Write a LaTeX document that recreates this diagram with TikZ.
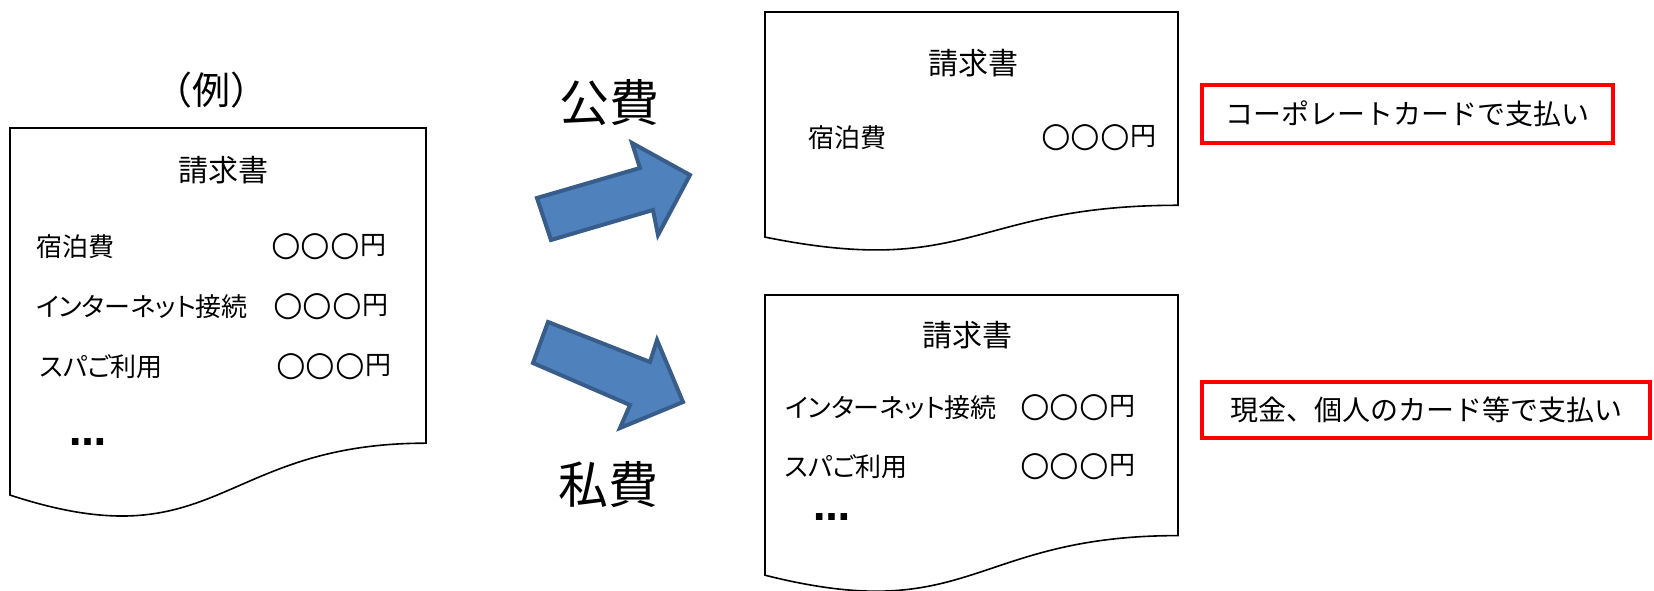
\documentclass[tikz,border=0pt]{standalone}
\usepackage{fontspec}
\setmainfont{Noto Sans CJK JP}
\newfontfamily\rowfont{Noto Sans CJK JP}[RawFeature=+palt]
\newfontfamily\circfont{DejaVu Sans}
\newfontfamily\dotfont{DejaVu Sans}[BoldFont={DejaVu Sans Bold}]
\begin{document}
\begin{tikzpicture}[x=1pt,y=-1pt,
  docline/.style={draw=black,line width=1.6pt,fill=white},
  blockarrow/.style={fill=arrowfill,draw=arrowdraw,line width=4pt,line join=miter},
  rowtext/.style={anchor=west,inner sep=0pt,font=\rowfont\fontsize{26}{30}\selectfont},
  amount/.style={anchor=west,inner sep=0pt,font=\fontsize{26}{30}\selectfont},
  dots/.style={inner sep=0pt,font=\dotfont\bfseries\fontsize{37}{40}\selectfont},
  titletext/.style={inner sep=0pt,font=\fontsize{30}{34}\selectfont},
  bigtext/.style={inner sep=0pt,font=\fontsize{50}{56}\selectfont},
  redbox/.style={draw=red,line width=4pt,inner sep=0pt,font=\fontsize{28}{32}\selectfont},
]
\definecolor{arrowfill}{HTML}{4F81BD}
\definecolor{arrowdraw}{HTML}{385D8A}
\newcommand{\yen}{\raisebox{-1.5pt}{\circfont\fontsize{34}{36}\selectfont ○○○}円}
\useasboundingbox (0,0) rectangle (1654,591);
\fill[white] (0,0) rectangle (1654,591);
% document shape: x0,y0,w,h
\newcommand{\docshape}[4]{%
  \draw[docline] (#1,#2) -- ({#1+#3},#2) -- ({#1+#3},{#2+0.802*#4})
    .. controls ({#1+0.5*#3},{#2+0.802*#4}) and ({#1+0.5*#3},{#2+1.1075*#4}) .. (#1,{#2+0.934*#4}) -- cycle;}
\docshape{10}{128}{416}{393}
\docshape{765}{12}{413}{241}
\docshape{765}{295}{413}{300}

% left document
\node[inner sep=0pt,font=\fontsize{38}{42}\selectfont] (rei) at (211,90) {（例）};
\node[titletext] (t1) at (223,170) {請求書};
\node[rowtext] (a1) at (36,247) {宿泊費};
\node[amount] (a1v) at (271,247) {\yen};
\node[rowtext] (a2) at (36,307) {インターネット接続};
\node[amount] (a2v) at (273,307) {\yen};
\node[rowtext] (a3) at (40,367) {スパご利用};
\node[amount] (a3v) at (276,367) {\yen};
\node[dots] (a4) at (88,442) {…};

% upper right document
\node[titletext] (t2) at (973,63) {請求書};
\node[rowtext] (b1) at (808,138) {宿泊費};
\node[amount] (b1v) at (1041,138) {\yen};

% lower right document
\node[titletext] (t3) at (967,335) {請求書};
\node[rowtext] (c1) at (785,408) {インターネット接続};
\node[amount] (c1v) at (1020,408) {\yen};
\node[rowtext] (c2) at (785,467) {スパご利用};
\node[amount] (c2v) at (1020,467) {\yen};
\node[dots] (c3) at (832,517) {…};

% labels
\node[bigtext] (kouhi) at (609,103) {公費};
\node[bigtext] (shihi) at (608,485) {私費};

% block arrows
\draw[blockarrow] (537,198) -- (640,168) -- (632,143) -- (690,175) -- (658,235) -- (653,210) -- (551,240) -- cycle;
\draw[blockarrow] (548,322) -- (650,362) -- (657,340) -- (683,402) -- (620,428) -- (630,405) -- (533,363) -- cycle;

% red boxes
\node[redbox,minimum width=411pt,minimum height=58pt] (pay1) at (1407.5,114) {コーポレートカードで支払い};
\node[redbox,minimum width=448pt,minimum height=56pt] (pay2) at (1426,410) {現金、個人のカード等で支払い};
\end{tikzpicture}
\end{document}
